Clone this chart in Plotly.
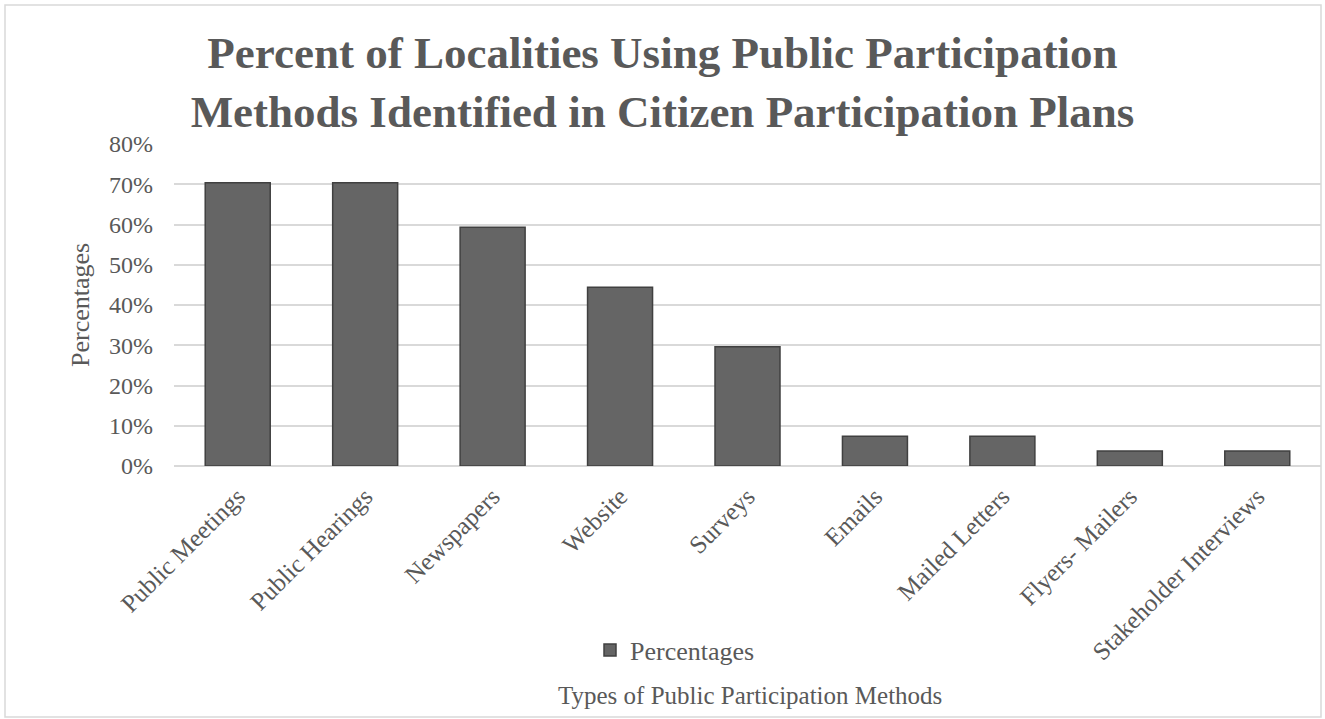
import plotly.graph_objects as go

categories = ["Public Meetings", "Public Hearings", "Newspapers", "Website", "Surveys",
              "Emails", "Mailed Letters", "Flyers- Mailers", "Stakeholder Interviews"]
percentages = [0.704, 0.704, 0.593, 0.444, 0.296, 0.074, 0.074, 0.037, 0.037]
series_name = "Percentages"
y_ticks = [0, 0.1, 0.2, 0.3, 0.4, 0.5, 0.6, 0.7, 0.8]
y_ticklabels = ["0%", "10%", "20%", "30%", "40%", "50%", "60%", "70%", "80%"]

W, H = 1325, 719
ML, MR, MT, MB = 174, 4, 144, 253
pw, ph = W - ML - MR, H - MT - MB

def px_x(x):
    return (x - ML) / pw

def px_y(y):
    return (H - MB - y) / ph

FONT = "Liberation Serif"
TXT = "#595959"

fig = go.Figure()
fig.add_trace(go.Bar(
    x=categories, y=percentages, name=series_name,
    marker=dict(color="#656565", line=dict(color="#404040", width=1.5)),
    showlegend=True,
))

fig.update_layout(
    width=W, height=H,
    margin=dict(l=ML, r=MR, t=MT, b=MB),
    paper_bgcolor="white", plot_bgcolor="white",
    bargap=0.49,
    font=dict(family=FONT, color=TXT, size=25),
    title=dict(
        text="<b>Percent of Localities Using Public Participation<br>Methods Identified in Citizen Participation Plans</b>",
        x=0.5, xanchor="center", xref="container", y=1 - 68 / H, yanchor="bottom",
        font=dict(family=FONT, size=45, color=TXT),
    ),
    showlegend=True,
    legend=dict(orientation="h", x=px_x(675), xanchor="center",
                y=px_y(650), yanchor="middle", font=dict(size=26, color=TXT),
                itemwidth=30),
    xaxis=dict(tickangle=-45, tickfont=dict(size=25, color=TXT), showgrid=False,
               showline=False, ticks="", ticklabelstandoff=10),
    yaxis=dict(range=[0, 0.8], tickvals=y_ticks, ticktext=y_ticklabels,
               tickfont=dict(size=24, color=TXT), showgrid=True, gridcolor="#d9d9d9",
               gridwidth=1.5, zeroline=True, zerolinecolor="#d9d9d9", zerolinewidth=1.5,
               ticks="", ticklabelstandoff=20),
    annotations=[
        dict(text="Types of Public Participation Methods", xref="paper", yref="paper",
             x=px_x(750), y=px_y(695), xanchor="center", yanchor="middle",
             showarrow=False, font=dict(size=25, color=TXT)),
        dict(text="Percentages", xref="paper", yref="paper", textangle=-90,
             x=px_x(80), y=px_y(305), xanchor="center", yanchor="middle",
             showarrow=False, font=dict(size=26, color=TXT)),
    ],
    shapes=[dict(type="rect", xref="paper", yref="paper",
                 x0=px_x(5), x1=px_x(1321), y0=px_y(717), y1=px_y(5),
                 line=dict(color="#d9d9d9", width=1.5), layer="below")],
)

fig.write_html("out.html")
